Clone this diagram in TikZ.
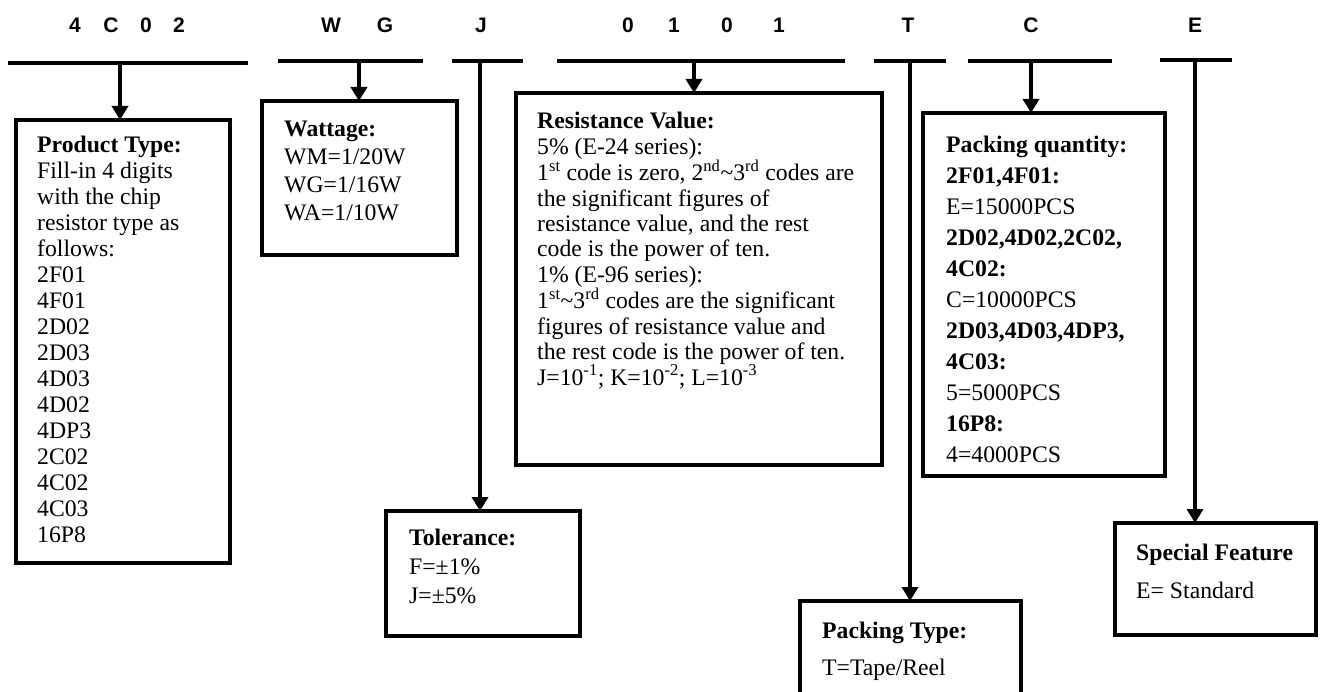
\documentclass[tikz,border=0pt]{standalone}
\usepackage{fontspec}
\setmainfont{Liberation Serif}
\newfontfamily\codefont{Liberation Sans}
\usetikzlibrary{arrows.meta}
\tikzset{
  box/.style={draw, line width=3.5pt, anchor=north west, inner sep=0pt, outer sep=0pt},
  txt/.style={anchor=north west, inner sep=0pt, align=left, font=\fontsize{23.7}{#1}\selectfont},
  txt/.default=26,
  bar/.style={line width=4pt},
  arr/.style={line width=4pt, -{Triangle[length=14pt,width=16pt]}},
  code/.style={font=\codefont\bfseries\fontsize{21}{21}\selectfont, inner sep=0pt}
}
\begin{document}
\begin{tikzpicture}[x=1pt,y=-1pt]
                \useasboundingbox (0,0) rectangle (1331,692);
                \clip (0,0) rectangle (1331,692);
                % part number letters
                \foreach \x/\c [count=\i] in {75/4,111/C,146/0,179/2,331/W,385/G,481/J,628/0,674/1,727/0,779/1,908/T,1031/C,1195/E}
                    \node[code] (c\i) at (\x,25) {\c};
                % bars under the letters
                \draw[bar] (8,63) -- (248,63);
                \draw[bar] (278,61) -- (423,61);
                \draw[bar] (452,61) -- (523,61);
                \draw[bar] (557,61) -- (845,61);
                \draw[bar] (874,61) -- (946,61);
                \draw[bar] (968,61) -- (1112,61);
                \draw[bar] (1160,60) -- (1232,60);
                % boxes
                \node[box, minimum width=214pt, minimum height=443pt] (pt) at (16,120) {};
                \node[box, minimum width=195pt, minimum height=154pt] (wt) at (262,101) {};
                \node[box, minimum width=366pt, minimum height=372pt] (rv) at (516,93) {};
                \node[box, minimum width=194pt, minimum height=125pt] (tol) at (386,511) {};
                \node[box, minimum width=242pt, minimum height=363pt] (pq) at (923,113) {};
                \node[box, minimum width=221pt, minimum height=120pt] (ptype) at (800,601) {};
                \node[box, minimum width=201pt, minimum height=112pt] (sf) at (1115,523) {};
                % texts
                \node[txt] (ptT) at (37,136) {\textbf{Product Type:}\\Fill-in 4 digits\\with the chip\\resistor type as\\follows:\\2F01\\4F01\\2D02\\2D03\\4D03\\4D02\\4DP3\\2C02\\4C02\\4C03\\16P8};
                \node[txt=28] (wtT) at (284,121) {\textbf{Wattage:}\\WM=1/20W\\WG=1/16W\\WA=1/10W};
                \node[txt=25.4] (rvT) at (537,112) {\textbf{Resistance Value:}\\
                    5\% (E-24 series):\\
                    1\textsuperscript{st} code is zero, 2\textsuperscript{nd}\textasciitilde3\textsuperscript{rd} codes are\\
                    the significant figures of\\
                    resistance value, and the rest\\
                    code is the power of ten.\\
                    1\% (E-96 series):\\
                    1\textsuperscript{st}\textasciitilde3\textsuperscript{rd} codes are the significant\\
                    figures of resistance value and\\
                    the rest code is the power of ten.\\
                    J=10\textsuperscript{-1}; K=10\textsuperscript{-2}; L=10\textsuperscript{-3}};
                \node[txt=29] (tolT) at (409,529) {\textbf{Tolerance:}\\F=±1\%\\J=±5\%};
                \node[txt=31] (pqT) at (946,136) {\textbf{Packing quantity:}\\\textbf{2F01,4F01:}\\E=15000PCS\\\textbf{2D02,4D02,2C02,}\\\textbf{4C02:}\\C=10000PCS\\\textbf{2D03,4D03,4DP3,}\\\textbf{4C03:}\\5=5000PCS\\\textbf{16P8:}\\4=4000PCS};
                \node[txt=37] (ptypeT) at (822,622) {\textbf{Packing Type:}\\T=Tape/Reel};
                \node[txt=38] (sfT) at (1136,544) {\textbf{Special Feature}\\E= Standard};
                % arrows from the bars
                \coordinate (a1) at (120,63);
                \coordinate (a2) at (359,61);
                \coordinate (a3) at (480,61);
                \coordinate (a4) at (694,61);
                \coordinate (a5) at (910,61);
                \coordinate (a6) at (1031,61);
                \coordinate (a7) at (1195,60);
                \draw[arr] (a1) -- (a1 |- pt.north);
                \draw[arr] (a2) -- (a2 |- wt.north);
                \draw[arr] (a3) -- (a3 |- tol.north);
                \draw[arr] (a4) -- (a4 |- rv.north);
                \draw[arr] (a5) -- (a5 |- ptype.north);
                \draw[arr] (a6) -- (a6 |- pq.north);
                \draw[arr] (a7) -- (a7 |- sf.north);
            \end{tikzpicture}
\end{document}
